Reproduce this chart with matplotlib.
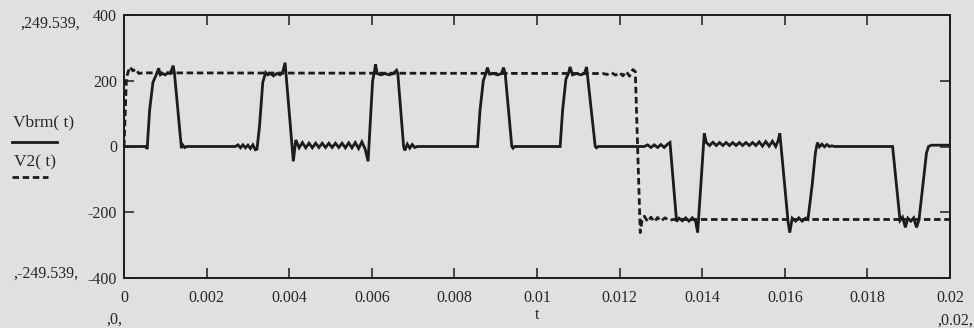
import numpy as np
import matplotlib
matplotlib.use("Agg")
import matplotlib.pyplot as plt
from matplotlib.lines import Line2D

# Vbrm(t): time in ms, value in V
vbrm_t_ms = [
    0.00, 0.54, 0.56, 0.62, 0.70, 0.78, 0.84, 0.88, 0.94, 1.00, 1.06, 1.12, 1.19, 1.22,
    1.39, 1.42, 1.47, 1.52,
    2.70, 2.76, 2.82, 2.88, 2.94, 3.00, 3.06, 3.12, 3.18, 3.22,
    3.28, 3.36, 3.43, 3.48, 3.55, 3.62, 3.70, 3.78, 3.84, 3.90,
    4.10, 4.16, 4.24, 4.32, 4.40, 4.48, 4.56, 4.64, 4.72, 4.80, 4.88, 4.96, 5.04,
    5.12, 5.20, 5.28, 5.36, 5.44, 5.52, 5.60, 5.68, 5.76, 5.84, 5.91,
    6.02, 6.06, 6.09, 6.13, 6.22, 6.32, 6.42, 6.52, 6.60, 6.63,
    6.77, 6.80, 6.86, 6.92, 6.98, 7.04, 7.10,
    8.56, 8.62, 8.70, 8.76, 8.80, 8.85, 8.95, 9.05, 9.14, 9.19, 9.23,
    9.39, 9.42, 9.46,
    10.56, 10.62, 10.70, 10.76, 10.80, 10.86, 10.96, 11.06, 11.15, 11.20,
    11.41, 11.44, 11.48,
    12.60, 12.68, 12.76, 12.84, 12.92, 13.00, 13.08, 13.16, 13.22,
    13.38, 13.44, 13.52, 13.60, 13.68, 13.76, 13.84, 13.89,
    14.05, 14.10, 14.18, 14.26, 14.34, 14.42, 14.50, 14.58, 14.66, 14.74, 14.82,
    14.90, 14.98, 15.06, 15.14, 15.22, 15.30, 15.38, 15.46, 15.54, 15.62, 15.70,
    15.78, 15.84, 15.88,
    16.08, 16.12, 16.18, 16.26, 16.34, 16.42, 16.50, 16.56,
    16.66, 16.74, 16.79, 16.84, 16.90, 16.96, 17.02, 17.08, 17.14, 17.20,
    18.61, 18.79, 18.85, 18.92, 18.98, 19.05, 19.12, 19.19, 19.25,
    19.36, 19.43, 19.48, 19.55, 20.00,
]
vbrm_v = [
    0, 0, -8, 110, 195, 218, 238, 218, 222, 218, 224, 222, 246, 225,
    -5, 5, -3, 0,
    0, 5, -4, 5, -4, 4, -6, 5, -10, -8,
    60, 195, 225, 218, 222, 215, 222, 218, 225, 255,
    -45, 20, -4, 12, -4, 10, -4, 10, -3, 10, -3, 10, -3,
    10, -3, 10, -4, 11, -4, 12, -6, 14, -8, -45,
    200, 225, 250, 222, 218, 222, 218, 222, 232, 222,
    0, -12, 7, -5, 6, -3, 0,
    0, 110, 200, 222, 240, 220, 222, 218, 222, 240, 222,
    0, -5, 0,
    0, 110, 205, 222, 242, 218, 222, 218, 222, 242,
    0, -4, 0,
    0, 5, -3, 5, -3, 6, -3, 7, 12,
    -228, -218, -226, -217, -227, -217, -227, -262,
    40, 12, 3, 13, 3, 12, 3, 12, 3, 12, 3,
    12, 3, 12, 3, 12, 3, 14, 1, 15, 1, 16,
    0, 18, 40,
    -230, -262, -218, -227, -217, -227, -218, -222,
    -120, -20, 12, -1, 7, -1, 6, 0, 2, 0,
    0, -225, -215, -246, -218, -227, -217, -246, -222,
    -100, -20, 0, 4, 4,
]

# V2(t): time in ms, value in V
v2_t_ms = [
    0.00, 0.06, 0.14, 0.22, 0.28, 0.36, 0.45,
    11.60, 11.70, 11.80, 11.90, 12.00, 12.08, 12.16, 12.24, 12.32, 12.38,
    12.50, 12.54, 12.60, 12.68, 12.76, 12.84, 12.92, 13.00, 13.10, 13.20, 13.30,
    20.00,
]
v2_v = [
    0, 210, 242, 230, 236, 222, 224,
    222, 219, 225, 217, 225, 215, 228, 214, 234, 228,
    -262, -226, -212, -229, -215, -229, -216, -227, -217, -225, -222,
    -222,
]

x_ticks = [0, 0.002, 0.004, 0.006, 0.008, 0.01, 0.012, 0.014, 0.016, 0.018, 0.02]
x_labels = ["0", "0.002", "0.004", "0.006", "0.008", "0.01", "0.012", "0.014",
            "0.016", "0.018", "0.02"]
y_ticks = [-400, -200, 0, 200, 400]
y_labels = ["-400", "-200", "0", "200", "400"]

bg = "#e0e0e0"
ink = "#1c1c1c"
txt = "#262626"

plt.rcParams["font.family"] = ["Liberation Serif", "DejaVu Serif"]
plt.rcParams["lines.scale_dashes"] = False

fig = plt.figure(figsize=(9.74, 3.28), dpi=100, facecolor=bg)
W, H = 974.0, 328.0
ax = fig.add_axes([124 / W, 1 - 278 / H, 826 / W, 263 / H], facecolor=bg)

t1 = np.array(vbrm_t_ms) / 1000.0
t2 = np.array(v2_t_ms) / 1000.0
ax.plot(t1, vbrm_v, color=ink, lw=2.0, solid_joinstyle="miter", zorder=3)
ax.plot(t2, v2_v, color=ink, lw=2.0, dashes=(4.7, 2.6), zorder=2)

ax.set_xlim(0, 0.02)
ax.set_ylim(-400, 400)
ax.set_xticks(x_ticks)
ax.set_xticklabels(x_labels)
ax.set_yticks(y_ticks)
ax.set_yticklabels(y_labels)
ax.tick_params(direction="in", length=7, width=1.1, colors=ink,
               top=True, right=True, labelsize=11.5, labelcolor=txt)
ax.tick_params(axis="x", pad=9)
ax.tick_params(axis="y", pad=5)
for s in ax.spines.values():
    s.set_linewidth(1.4)
    s.set_color(ink)

def ftext(x, y, s, size=11.5):
    fig.text(x / W, 1 - y / H, s, ha="center", va="center", color=txt,
             fontsize=size)

ftext(50, 24, ",249.539,")
ftext(46, 274, ",-249.539,")
ftext(114, 320, ",0,")
ftext(955, 321, ",0.02,")
ftext(537, 315, "t")
ftext(44, 122, "Vbrm( t)", 12.5)
ftext(35, 162, "V2( t)", 12.5)
fig.add_artist(Line2D([12 / W, 57 / W], [1 - 142 / H, 1 - 142 / H], color=ink, lw=2.0))
fig.add_artist(Line2D([12 / W, 48 / W], [1 - 177 / H, 1 - 177 / H], color=ink, lw=2.0,
                      dashes=(4.7, 2.6)))

fig.savefig("out.png", dpi=100, facecolor=bg)
